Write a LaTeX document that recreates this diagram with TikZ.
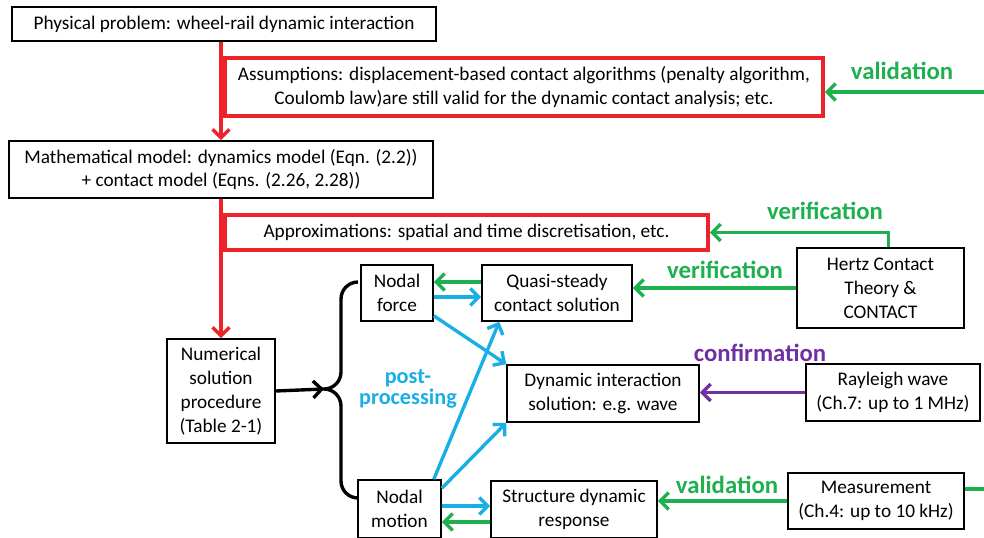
\documentclass[tikz,border=0pt]{standalone}
\usepackage{fontspec}
\setmainfont{Carlito}
\usepackage{tikz}
\usetikzlibrary{arrows.meta,calc,positioning}
\definecolor{flowred}{HTML}{EE2229}
\definecolor{flowgreen}{HTML}{1EB04E}
\definecolor{flowblue}{HTML}{1AAEE6}
\definecolor{flowpurple}{HTML}{7030A0}
\tikzset{
  box/.style={draw=black,line width=1.1pt,align=center,inner sep=2pt,font=\fontsize{13.7}{17}\selectfont},
  redbox/.style={box,draw=flowred,line width=2.6pt},
  tag/.style={font=\fontsize{17.6}{20}\selectfont\bfseries},
  redarrow/.style={-{Straight Barb[length=6pt,width=12pt]},line width=2.4pt,flowred},
  greenarrow/.style={-{Straight Barb[length=6pt,width=12pt]},line width=2.4pt,flowgreen},
  bluearrow/.style={-{Straight Barb[length=6pt,width=12pt]},line width=2.4pt,flowblue},
  purplearrow/.style={-{Straight Barb[length=6pt,width=12pt]},line width=2.4pt,flowpurple},
  blackarrow/.style={-{Straight Barb[length=6pt,width=12pt]},line width=2.4pt,black}
}

\begin{document}
\begin{tikzpicture}
  \useasboundingbox (0,0) rectangle (24.6,-13.425);
  \node[box,minimum width=10.6cm,minimum height=0.85cm] (phys) at (5.6,-0.6) {Physical problem: wheel-rail dynamic interaction};
  \node[redbox,minimum width=14.95cm,minimum height=1.45cm] (assum) at (13.1,-2.175) {Assumptions: displacement-based contact algorithms (penalty algorithm,\\Coulomb law)are still valid for the dynamic contact analysis; etc.};
  \node[box,minimum width=10.6cm,minimum height=1.425cm] (math) at (5.525,-4.2375) {Mathematical model: dynamics model (Eqn. (2.2))\\+ contact model (Eqns. (2.26, 2.28))};
  \node[redbox,minimum width=12.075cm,minimum height=0.875cm] (approx) at (11.6625,-5.8125) {Approximations: spatial and time discretisation, etc.};
  \node[box,minimum width=2.7cm,minimum height=2.6cm] (numer) at (5.525,-9.775) {Numerical\\solution\\procedure\\(Table 2-1)};
  \node[box,minimum width=1.8cm,minimum height=1.4cm] (force) at (9.925,-7.325) {Nodal\\force};
  \node[box,minimum width=3.75cm,minimum height=1.4cm] (quasi) at (13.925,-7.325) {Quasi-steady\\contact solution};
  \node[box,minimum width=4.175cm,minimum height=2cm] (hertz) at (22.0125,-7.2) {Hertz Contact\\Theory \&\\CONTACT};
  \node[box,minimum width=4.8cm,minimum height=1.425cm] (dynam) at (15.075,-9.8375) {Dynamic interaction\\solution: e.g. wave};
  \node[box,minimum width=4.35cm,minimum height=1.425cm] (rayl) at (22.325,-9.8125) {Rayleigh wave\\(Ch.7: up to 1 MHz)};
  \node[box,minimum width=2.075cm,minimum height=1.45cm] (motion) at (9.9875,-12.725) {Nodal\\motion};
  \node[box,minimum width=4.15cm,minimum height=1.425cm] (struct) at (14.35,-12.7375) {Structure dynamic\\response};
  \node[box,minimum width=4.4cm,minimum height=1.4cm] (meas) at (21.9,-12.525) {Measurement\\(Ch.4: up to 10 kHz)};

  \node[tag,flowgreen] (valtop) at (22.55,-1.775) {validation};
  \node[tag,flowgreen] (veriup) at (20.625,-5.275) {verification};
  \node[tag,flowgreen] (verilow) at (18.125,-6.75) {verification};
  \node[tag,flowpurple] (confirm) at (19.0,-8.825) {confirmation};
  \node[tag,flowgreen] (valbot) at (18.175,-12.125) {validation};
  \node[tag,flowblue,align=center,font=\fontsize{15.8}{15}\selectfont\bfseries] (post) at (10.2,-9.725) {post-\\processing};

  \coordinate (valin) at (24.6,-2.3);
  \coordinate (measout) at (24.6,-12.225);
  \coordinate (cusp) at (8.1,-9.725);

  \draw[redarrow] (phys.south -| math.north) -- (math.north);
  \draw[redarrow] (math.south) -- (numer.north);
  \draw[greenarrow] (valin) -- (valin -| assum.east);
  \draw[greenarrow] ([xshift=0.2cm]hertz.north) |- (approx.east);
  \draw[greenarrow] (hertz.west) -- (hertz.west -| quasi.east);
  \draw[greenarrow] ([yshift=0.275cm]quasi.west) -- ([yshift=0.275cm]force.east);
  \draw[bluearrow] ([yshift=-0.1cm]force.east) -- ([yshift=-0.1cm]quasi.west);
  \draw[bluearrow] ([yshift=0.15cm]force.south east) -- (dynam.north west);
  \draw[bluearrow] ([xshift=-0.2cm]motion.north east) -- ([xshift=0.45cm]quasi.south west);
  \draw[bluearrow] ([yshift=-0.225cm]motion.north east) -- (dynam.south west);
  \draw[bluearrow] ([yshift=0.075cm]motion.east) -- ([yshift=0.075cm]motion.east -| struct.west);
  \draw[greenarrow] ([yshift=-0.325cm]motion.east -| struct.west) -- ([yshift=-0.325cm]motion.east);
  \draw[purplearrow] (rayl.west) -- (rayl.west -| dynam.east);
  \draw[greenarrow] (meas.west) -- (meas.west -| struct.east);
  \draw[flowgreen,line width=2.4pt] (measout -| meas.east) -- (measout);
  \draw[blackarrow] (numer.east) -- (cusp);
  \draw[line width=2.4pt] (8.95,-7.05) arc[start angle=90,end angle=180,radius=0.425] -- (8.525,-9.3)
    arc[start angle=0,end angle=-90,radius=0.425] arc[start angle=90,end angle=0,radius=0.425]
    -- (8.525,-12.025) arc[start angle=180,end angle=270,radius=0.425];
\end{tikzpicture}
\end{document}
